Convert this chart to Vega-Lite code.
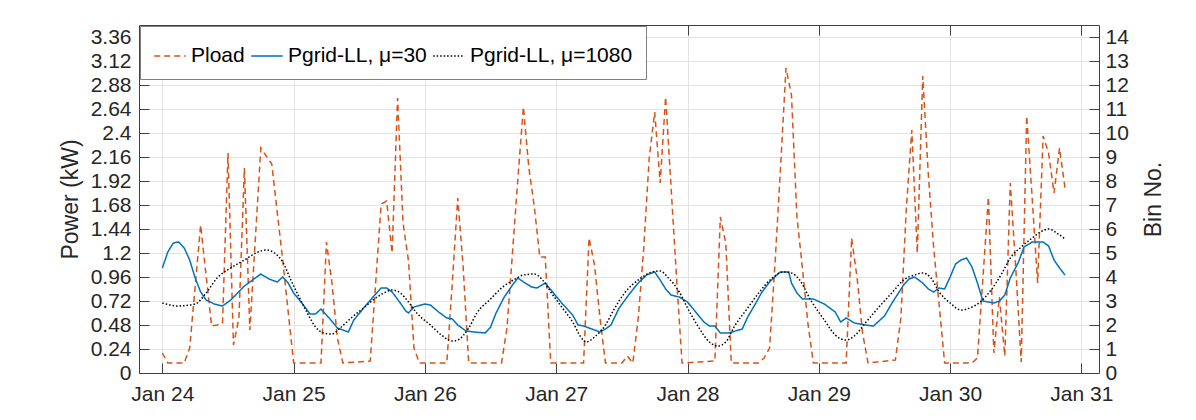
{
  "$schema": "https://vega.github.io/schema/vega-lite/v6.json",
  "width": 960,
  "height": 348,
  "autosize": {"type": "none"},
  "padding": {"left": 139, "top": 25, "right": 97, "bottom": 47},
  "config": {
    "font": "Liberation Sans",
    "view": {"stroke": null},
    "axis": {
      "domainColor": "#404040", "domainWidth": 1,
      "tickColor": "#404040", "tickSize": -10, "tickWidth": 1,
      "labelColor": "#262626", "labelFontSize": 21,
      "titleColor": "#262626", "titleFontSize": 23, "titleFontWeight": "normal",
      "gridColor": "#e3e3e3", "gridWidth": 1
    },
    "legend": {
      "orient": "top-left", "offset": 1, "direction": "horizontal",
      "fillColor": "white", "strokeColor": "#808080", "padding": 13,
      "labelFontSize": 21, "labelColor": "#000000", "labelLimit": 400,
      "symbolType": "stroke", "symbolSize": 1000, "symbolStrokeWidth": 1.5,
      "columnPadding": 3, "labelOffset": 4
    }
  },
  "data": {
    "values": [
      {"s": "load", "t": "2021-01-24T00:00", "p": 0.20},
      {"s": "load", "t": "2021-01-24T01:00", "p": 0.10},
      {"s": "load", "t": "2021-01-24T04:00", "p": 0.10},
      {"s": "load", "t": "2021-01-24T05:00", "p": 0.25},
      {"s": "load", "t": "2021-01-24T07:00", "p": 1.48},
      {"s": "load", "t": "2021-01-24T09:00", "p": 0.47},
      {"s": "load", "t": "2021-01-24T10:00", "p": 0.48},
      {"s": "load", "t": "2021-01-24T11:00", "p": 0.50},
      {"s": "load", "t": "2021-01-24T12:00", "p": 2.20},
      {"s": "load", "t": "2021-01-24T13:00", "p": 0.28},
      {"s": "load", "t": "2021-01-24T14:00", "p": 0.55},
      {"s": "load", "t": "2021-01-24T15:00", "p": 2.05},
      {"s": "load", "t": "2021-01-24T16:00", "p": 0.43},
      {"s": "load", "t": "2021-01-24T18:00", "p": 2.25},
      {"s": "load", "t": "2021-01-24T20:00", "p": 2.09},
      {"s": "load", "t": "2021-01-24T22:00", "p": 1.13},
      {"s": "load", "t": "2021-01-25T00:00", "p": 0.10},
      {"s": "load", "t": "2021-01-25T05:00", "p": 0.10},
      {"s": "load", "t": "2021-01-25T06:00", "p": 1.31},
      {"s": "load", "t": "2021-01-25T07:00", "p": 0.90},
      {"s": "load", "t": "2021-01-25T08:00", "p": 0.35},
      {"s": "load", "t": "2021-01-25T09:00", "p": 0.10},
      {"s": "load", "t": "2021-01-25T14:00", "p": 0.12},
      {"s": "load", "t": "2021-01-25T16:00", "p": 1.69},
      {"s": "load", "t": "2021-01-25T17:00", "p": 1.72},
      {"s": "load", "t": "2021-01-25T18:00", "p": 1.20},
      {"s": "load", "t": "2021-01-25T19:00", "p": 2.75},
      {"s": "load", "t": "2021-01-25T20:00", "p": 1.50},
      {"s": "load", "t": "2021-01-25T21:00", "p": 1.12},
      {"s": "load", "t": "2021-01-25T22:00", "p": 0.25},
      {"s": "load", "t": "2021-01-25T23:00", "p": 0.10},
      {"s": "load", "t": "2021-01-26T04:00", "p": 0.10},
      {"s": "load", "t": "2021-01-26T05:00", "p": 0.90},
      {"s": "load", "t": "2021-01-26T06:00", "p": 1.75},
      {"s": "load", "t": "2021-01-26T07:00", "p": 1.05},
      {"s": "load", "t": "2021-01-26T08:00", "p": 0.10},
      {"s": "load", "t": "2021-01-26T14:00", "p": 0.10},
      {"s": "load", "t": "2021-01-26T15:00", "p": 0.45},
      {"s": "load", "t": "2021-01-26T16:00", "p": 1.20},
      {"s": "load", "t": "2021-01-26T17:00", "p": 1.95},
      {"s": "load", "t": "2021-01-26T18:00", "p": 2.66},
      {"s": "load", "t": "2021-01-26T19:00", "p": 2.05},
      {"s": "load", "t": "2021-01-26T20:00", "p": 1.66},
      {"s": "load", "t": "2021-01-26T21:00", "p": 1.16},
      {"s": "load", "t": "2021-01-26T22:00", "p": 1.16},
      {"s": "load", "t": "2021-01-26T23:00", "p": 0.10},
      {"s": "load", "t": "2021-01-27T05:00", "p": 0.10},
      {"s": "load", "t": "2021-01-27T06:00", "p": 1.35},
      {"s": "load", "t": "2021-01-27T07:00", "p": 1.08},
      {"s": "load", "t": "2021-01-27T08:00", "p": 0.55},
      {"s": "load", "t": "2021-01-27T09:00", "p": 0.10},
      {"s": "load", "t": "2021-01-27T12:00", "p": 0.10},
      {"s": "load", "t": "2021-01-27T13:00", "p": 0.17},
      {"s": "load", "t": "2021-01-27T14:00", "p": 0.10},
      {"s": "load", "t": "2021-01-27T15:00", "p": 0.55},
      {"s": "load", "t": "2021-01-27T16:00", "p": 1.25},
      {"s": "load", "t": "2021-01-27T17:00", "p": 2.15},
      {"s": "load", "t": "2021-01-27T18:00", "p": 2.61},
      {"s": "load", "t": "2021-01-27T19:00", "p": 1.90},
      {"s": "load", "t": "2021-01-27T20:00", "p": 2.76},
      {"s": "load", "t": "2021-01-27T21:00", "p": 1.85},
      {"s": "load", "t": "2021-01-27T22:00", "p": 0.95},
      {"s": "load", "t": "2021-01-27T23:00", "p": 0.10},
      {"s": "load", "t": "2021-01-28T05:00", "p": 0.12},
      {"s": "load", "t": "2021-01-28T06:00", "p": 1.56},
      {"s": "load", "t": "2021-01-28T07:00", "p": 1.30},
      {"s": "load", "t": "2021-01-28T08:00", "p": 0.10},
      {"s": "load", "t": "2021-01-28T13:00", "p": 0.10},
      {"s": "load", "t": "2021-01-28T14:00", "p": 0.15},
      {"s": "load", "t": "2021-01-28T15:00", "p": 0.25},
      {"s": "load", "t": "2021-01-28T16:00", "p": 1.10},
      {"s": "load", "t": "2021-01-28T17:00", "p": 2.05},
      {"s": "load", "t": "2021-01-28T18:00", "p": 3.05},
      {"s": "load", "t": "2021-01-28T19:00", "p": 2.78},
      {"s": "load", "t": "2021-01-28T20:00", "p": 1.56},
      {"s": "load", "t": "2021-01-28T21:00", "p": 1.05},
      {"s": "load", "t": "2021-01-28T22:00", "p": 0.50},
      {"s": "load", "t": "2021-01-28T23:00", "p": 0.10},
      {"s": "load", "t": "2021-01-29T05:00", "p": 0.10},
      {"s": "load", "t": "2021-01-29T06:00", "p": 1.35},
      {"s": "load", "t": "2021-01-29T07:00", "p": 0.95},
      {"s": "load", "t": "2021-01-29T08:00", "p": 0.40},
      {"s": "load", "t": "2021-01-29T09:00", "p": 0.10},
      {"s": "load", "t": "2021-01-29T14:00", "p": 0.13},
      {"s": "load", "t": "2021-01-29T15:00", "p": 0.55},
      {"s": "load", "t": "2021-01-29T16:00", "p": 1.65},
      {"s": "load", "t": "2021-01-29T17:00", "p": 2.43},
      {"s": "load", "t": "2021-01-29T18:00", "p": 1.20},
      {"s": "load", "t": "2021-01-29T19:00", "p": 2.97},
      {"s": "load", "t": "2021-01-29T20:00", "p": 2.00},
      {"s": "load", "t": "2021-01-29T21:00", "p": 1.25},
      {"s": "load", "t": "2021-01-29T22:00", "p": 0.68},
      {"s": "load", "t": "2021-01-29T23:00", "p": 0.10},
      {"s": "load", "t": "2021-01-30T04:00", "p": 0.10},
      {"s": "load", "t": "2021-01-30T05:00", "p": 0.15},
      {"s": "load", "t": "2021-01-30T06:00", "p": 0.95},
      {"s": "load", "t": "2021-01-30T07:00", "p": 1.76},
      {"s": "load", "t": "2021-01-30T08:00", "p": 0.20},
      {"s": "load", "t": "2021-01-30T09:00", "p": 0.76},
      {"s": "load", "t": "2021-01-30T10:00", "p": 0.17},
      {"s": "load", "t": "2021-01-30T11:00", "p": 1.90},
      {"s": "load", "t": "2021-01-30T12:00", "p": 1.05},
      {"s": "load", "t": "2021-01-30T13:00", "p": 0.11},
      {"s": "load", "t": "2021-01-30T14:00", "p": 2.57},
      {"s": "load", "t": "2021-01-30T15:00", "p": 1.75},
      {"s": "load", "t": "2021-01-30T16:00", "p": 0.90},
      {"s": "load", "t": "2021-01-30T17:00", "p": 2.37},
      {"s": "load", "t": "2021-01-30T18:00", "p": 2.20},
      {"s": "load", "t": "2021-01-30T19:00", "p": 1.80},
      {"s": "load", "t": "2021-01-30T20:00", "p": 2.25},
      {"s": "load", "t": "2021-01-30T21:00", "p": 1.85},

      {"s": "mu30", "t": "2021-01-24T00:00", "p": 1.05},
      {"s": "mu30", "t": "2021-01-24T01:00", "p": 1.21},
      {"s": "mu30", "t": "2021-01-24T02:00", "p": 1.30},
      {"s": "mu30", "t": "2021-01-24T03:00", "p": 1.31},
      {"s": "mu30", "t": "2021-01-24T04:00", "p": 1.25},
      {"s": "mu30", "t": "2021-01-24T05:00", "p": 1.13},
      {"s": "mu30", "t": "2021-01-24T06:00", "p": 0.95},
      {"s": "mu30", "t": "2021-01-24T07:00", "p": 0.81},
      {"s": "mu30", "t": "2021-01-24T08:00", "p": 0.73},
      {"s": "mu30", "t": "2021-01-24T09:30", "p": 0.69},
      {"s": "mu30", "t": "2021-01-24T11:00", "p": 0.67},
      {"s": "mu30", "t": "2021-01-24T12:30", "p": 0.73},
      {"s": "mu30", "t": "2021-01-24T15:00", "p": 0.87},
      {"s": "mu30", "t": "2021-01-24T16:30", "p": 0.93},
      {"s": "mu30", "t": "2021-01-24T18:00", "p": 0.99},
      {"s": "mu30", "t": "2021-01-24T19:30", "p": 0.94},
      {"s": "mu30", "t": "2021-01-24T21:00", "p": 0.91},
      {"s": "mu30", "t": "2021-01-24T22:00", "p": 0.96},
      {"s": "mu30", "t": "2021-01-24T23:00", "p": 0.90},
      {"s": "mu30", "t": "2021-01-25T00:00", "p": 0.80},
      {"s": "mu30", "t": "2021-01-25T01:30", "p": 0.70},
      {"s": "mu30", "t": "2021-01-25T03:00", "p": 0.59},
      {"s": "mu30", "t": "2021-01-25T04:00", "p": 0.59},
      {"s": "mu30", "t": "2021-01-25T05:00", "p": 0.64},
      {"s": "mu30", "t": "2021-01-25T06:30", "p": 0.55},
      {"s": "mu30", "t": "2021-01-25T08:00", "p": 0.45},
      {"s": "mu30", "t": "2021-01-25T10:00", "p": 0.41},
      {"s": "mu30", "t": "2021-01-25T11:00", "p": 0.53},
      {"s": "mu30", "t": "2021-01-25T12:30", "p": 0.63},
      {"s": "mu30", "t": "2021-01-25T14:30", "p": 0.76},
      {"s": "mu30", "t": "2021-01-25T16:00", "p": 0.85},
      {"s": "mu30", "t": "2021-01-25T17:00", "p": 0.85},
      {"s": "mu30", "t": "2021-01-25T18:00", "p": 0.81},
      {"s": "mu30", "t": "2021-01-25T19:30", "p": 0.70},
      {"s": "mu30", "t": "2021-01-25T20:30", "p": 0.62},
      {"s": "mu30", "t": "2021-01-25T21:00", "p": 0.60},
      {"s": "mu30", "t": "2021-01-25T22:00", "p": 0.66},
      {"s": "mu30", "t": "2021-01-26T00:00", "p": 0.69},
      {"s": "mu30", "t": "2021-01-26T01:00", "p": 0.68},
      {"s": "mu30", "t": "2021-01-26T02:30", "p": 0.61},
      {"s": "mu30", "t": "2021-01-26T04:00", "p": 0.55},
      {"s": "mu30", "t": "2021-01-26T05:00", "p": 0.54},
      {"s": "mu30", "t": "2021-01-26T06:00", "p": 0.48},
      {"s": "mu30", "t": "2021-01-26T07:30", "p": 0.42},
      {"s": "mu30", "t": "2021-01-26T09:00", "p": 0.41},
      {"s": "mu30", "t": "2021-01-26T11:00", "p": 0.40},
      {"s": "mu30", "t": "2021-01-26T12:00", "p": 0.46},
      {"s": "mu30", "t": "2021-01-26T13:00", "p": 0.60},
      {"s": "mu30", "t": "2021-01-26T14:30", "p": 0.76},
      {"s": "mu30", "t": "2021-01-26T16:00", "p": 0.88},
      {"s": "mu30", "t": "2021-01-26T17:00", "p": 0.95},
      {"s": "mu30", "t": "2021-01-26T18:00", "p": 0.91},
      {"s": "mu30", "t": "2021-01-26T19:30", "p": 0.86},
      {"s": "mu30", "t": "2021-01-26T20:30", "p": 0.85},
      {"s": "mu30", "t": "2021-01-26T22:00", "p": 0.90},
      {"s": "mu30", "t": "2021-01-26T23:30", "p": 0.80},
      {"s": "mu30", "t": "2021-01-27T01:00", "p": 0.70},
      {"s": "mu30", "t": "2021-01-27T03:00", "p": 0.58},
      {"s": "mu30", "t": "2021-01-27T04:00", "p": 0.48},
      {"s": "mu30", "t": "2021-01-27T05:00", "p": 0.47},
      {"s": "mu30", "t": "2021-01-27T06:30", "p": 0.44},
      {"s": "mu30", "t": "2021-01-27T08:00", "p": 0.41},
      {"s": "mu30", "t": "2021-01-27T09:00", "p": 0.44},
      {"s": "mu30", "t": "2021-01-27T10:00", "p": 0.48},
      {"s": "mu30", "t": "2021-01-27T11:30", "p": 0.65},
      {"s": "mu30", "t": "2021-01-27T13:30", "p": 0.80},
      {"s": "mu30", "t": "2021-01-27T15:00", "p": 0.90},
      {"s": "mu30", "t": "2021-01-27T16:30", "p": 0.98},
      {"s": "mu30", "t": "2021-01-27T18:00", "p": 1.01},
      {"s": "mu30", "t": "2021-01-27T19:00", "p": 0.93},
      {"s": "mu30", "t": "2021-01-27T20:00", "p": 0.84},
      {"s": "mu30", "t": "2021-01-27T21:00", "p": 0.78},
      {"s": "mu30", "t": "2021-01-27T22:30", "p": 0.76},
      {"s": "mu30", "t": "2021-01-28T00:00", "p": 0.71},
      {"s": "mu30", "t": "2021-01-28T01:30", "p": 0.61},
      {"s": "mu30", "t": "2021-01-28T03:00", "p": 0.51},
      {"s": "mu30", "t": "2021-01-28T04:00", "p": 0.47},
      {"s": "mu30", "t": "2021-01-28T05:00", "p": 0.47},
      {"s": "mu30", "t": "2021-01-28T06:00", "p": 0.40},
      {"s": "mu30", "t": "2021-01-28T07:30", "p": 0.40},
      {"s": "mu30", "t": "2021-01-28T10:00", "p": 0.44},
      {"s": "mu30", "t": "2021-01-28T11:00", "p": 0.56},
      {"s": "mu30", "t": "2021-01-28T12:30", "p": 0.70},
      {"s": "mu30", "t": "2021-01-28T13:30", "p": 0.80},
      {"s": "mu30", "t": "2021-01-28T15:00", "p": 0.91},
      {"s": "mu30", "t": "2021-01-28T16:30", "p": 0.99},
      {"s": "mu30", "t": "2021-01-28T17:00", "p": 1.01},
      {"s": "mu30", "t": "2021-01-28T18:30", "p": 1.01},
      {"s": "mu30", "t": "2021-01-28T19:00", "p": 0.90},
      {"s": "mu30", "t": "2021-01-28T20:00", "p": 0.80},
      {"s": "mu30", "t": "2021-01-28T21:00", "p": 0.74},
      {"s": "mu30", "t": "2021-01-28T23:00", "p": 0.74},
      {"s": "mu30", "t": "2021-01-29T01:00", "p": 0.69},
      {"s": "mu30", "t": "2021-01-29T03:00", "p": 0.61},
      {"s": "mu30", "t": "2021-01-29T04:00", "p": 0.51},
      {"s": "mu30", "t": "2021-01-29T05:00", "p": 0.55},
      {"s": "mu30", "t": "2021-01-29T06:30", "p": 0.50},
      {"s": "mu30", "t": "2021-01-29T08:30", "p": 0.48},
      {"s": "mu30", "t": "2021-01-29T10:00", "p": 0.47},
      {"s": "mu30", "t": "2021-01-29T12:00", "p": 0.57},
      {"s": "mu30", "t": "2021-01-29T13:30", "p": 0.71},
      {"s": "mu30", "t": "2021-01-29T15:30", "p": 0.88},
      {"s": "mu30", "t": "2021-01-29T16:30", "p": 0.94},
      {"s": "mu30", "t": "2021-01-29T17:30", "p": 0.96},
      {"s": "mu30", "t": "2021-01-29T19:00", "p": 0.90},
      {"s": "mu30", "t": "2021-01-29T20:00", "p": 0.84},
      {"s": "mu30", "t": "2021-01-29T21:00", "p": 0.81},
      {"s": "mu30", "t": "2021-01-29T22:00", "p": 0.85},
      {"s": "mu30", "t": "2021-01-29T23:00", "p": 0.84},
      {"s": "mu30", "t": "2021-01-30T00:00", "p": 0.96},
      {"s": "mu30", "t": "2021-01-30T01:00", "p": 1.09},
      {"s": "mu30", "t": "2021-01-30T02:00", "p": 1.13},
      {"s": "mu30", "t": "2021-01-30T03:00", "p": 1.15},
      {"s": "mu30", "t": "2021-01-30T04:00", "p": 1.06},
      {"s": "mu30", "t": "2021-01-30T05:00", "p": 0.90},
      {"s": "mu30", "t": "2021-01-30T06:00", "p": 0.72},
      {"s": "mu30", "t": "2021-01-30T07:00", "p": 0.71},
      {"s": "mu30", "t": "2021-01-30T08:00", "p": 0.70},
      {"s": "mu30", "t": "2021-01-30T09:00", "p": 0.72},
      {"s": "mu30", "t": "2021-01-30T10:00", "p": 0.78},
      {"s": "mu30", "t": "2021-01-30T11:00", "p": 0.95},
      {"s": "mu30", "t": "2021-01-30T12:30", "p": 1.11},
      {"s": "mu30", "t": "2021-01-30T13:30", "p": 1.26},
      {"s": "mu30", "t": "2021-01-30T15:00", "p": 1.31},
      {"s": "mu30", "t": "2021-01-30T17:00", "p": 1.31},
      {"s": "mu30", "t": "2021-01-30T18:00", "p": 1.27},
      {"s": "mu30", "t": "2021-01-30T19:00", "p": 1.13},
      {"s": "mu30", "t": "2021-01-30T20:00", "p": 1.05},
      {"s": "mu30", "t": "2021-01-30T21:00", "p": 0.98},

      {"s": "mu1080", "t": "2021-01-24T00:00", "p": 0.70},
      {"s": "mu1080", "t": "2021-01-24T03:00", "p": 0.67},
      {"s": "mu1080", "t": "2021-01-24T06:00", "p": 0.69},
      {"s": "mu1080", "t": "2021-01-24T08:00", "p": 0.80},
      {"s": "mu1080", "t": "2021-01-24T10:00", "p": 0.95},
      {"s": "mu1080", "t": "2021-01-24T12:30", "p": 1.05},
      {"s": "mu1080", "t": "2021-01-24T15:00", "p": 1.13},
      {"s": "mu1080", "t": "2021-01-24T17:30", "p": 1.21},
      {"s": "mu1080", "t": "2021-01-24T19:00", "p": 1.23},
      {"s": "mu1080", "t": "2021-01-24T20:30", "p": 1.20},
      {"s": "mu1080", "t": "2021-01-24T22:00", "p": 1.11},
      {"s": "mu1080", "t": "2021-01-24T23:30", "p": 0.93},
      {"s": "mu1080", "t": "2021-01-25T01:00", "p": 0.76},
      {"s": "mu1080", "t": "2021-01-25T02:30", "p": 0.60},
      {"s": "mu1080", "t": "2021-01-25T04:00", "p": 0.46},
      {"s": "mu1080", "t": "2021-01-25T05:30", "p": 0.40},
      {"s": "mu1080", "t": "2021-01-25T07:00", "p": 0.39},
      {"s": "mu1080", "t": "2021-01-25T08:30", "p": 0.45},
      {"s": "mu1080", "t": "2021-01-25T10:30", "p": 0.55},
      {"s": "mu1080", "t": "2021-01-25T13:00", "p": 0.66},
      {"s": "mu1080", "t": "2021-01-25T15:00", "p": 0.75},
      {"s": "mu1080", "t": "2021-01-25T16:30", "p": 0.80},
      {"s": "mu1080", "t": "2021-01-25T18:00", "p": 0.83},
      {"s": "mu1080", "t": "2021-01-25T19:30", "p": 0.80},
      {"s": "mu1080", "t": "2021-01-25T21:00", "p": 0.71},
      {"s": "mu1080", "t": "2021-01-25T22:30", "p": 0.60},
      {"s": "mu1080", "t": "2021-01-26T01:00", "p": 0.48},
      {"s": "mu1080", "t": "2021-01-26T03:00", "p": 0.38},
      {"s": "mu1080", "t": "2021-01-26T05:00", "p": 0.32},
      {"s": "mu1080", "t": "2021-01-26T06:00", "p": 0.33},
      {"s": "mu1080", "t": "2021-01-26T08:00", "p": 0.45},
      {"s": "mu1080", "t": "2021-01-26T09:30", "p": 0.60},
      {"s": "mu1080", "t": "2021-01-26T12:00", "p": 0.74},
      {"s": "mu1080", "t": "2021-01-26T14:00", "p": 0.85},
      {"s": "mu1080", "t": "2021-01-26T16:30", "p": 0.94},
      {"s": "mu1080", "t": "2021-01-26T18:00", "p": 0.98},
      {"s": "mu1080", "t": "2021-01-26T20:00", "p": 0.99},
      {"s": "mu1080", "t": "2021-01-26T21:30", "p": 0.93},
      {"s": "mu1080", "t": "2021-01-26T23:00", "p": 0.81},
      {"s": "mu1080", "t": "2021-01-27T01:00", "p": 0.66},
      {"s": "mu1080", "t": "2021-01-27T03:00", "p": 0.51},
      {"s": "mu1080", "t": "2021-01-27T04:30", "p": 0.36},
      {"s": "mu1080", "t": "2021-01-27T05:30", "p": 0.31},
      {"s": "mu1080", "t": "2021-01-27T07:00", "p": 0.36},
      {"s": "mu1080", "t": "2021-01-27T09:00", "p": 0.48},
      {"s": "mu1080", "t": "2021-01-27T10:30", "p": 0.63},
      {"s": "mu1080", "t": "2021-01-27T12:30", "p": 0.80},
      {"s": "mu1080", "t": "2021-01-27T15:30", "p": 0.95},
      {"s": "mu1080", "t": "2021-01-27T17:30", "p": 1.01},
      {"s": "mu1080", "t": "2021-01-27T19:00", "p": 1.02},
      {"s": "mu1080", "t": "2021-01-27T20:30", "p": 0.95},
      {"s": "mu1080", "t": "2021-01-27T22:30", "p": 0.81},
      {"s": "mu1080", "t": "2021-01-28T00:00", "p": 0.65},
      {"s": "mu1080", "t": "2021-01-28T02:00", "p": 0.46},
      {"s": "mu1080", "t": "2021-01-28T04:00", "p": 0.31},
      {"s": "mu1080", "t": "2021-01-28T05:30", "p": 0.27},
      {"s": "mu1080", "t": "2021-01-28T07:00", "p": 0.31},
      {"s": "mu1080", "t": "2021-01-28T08:30", "p": 0.46},
      {"s": "mu1080", "t": "2021-01-28T11:00", "p": 0.65},
      {"s": "mu1080", "t": "2021-01-28T13:00", "p": 0.80},
      {"s": "mu1080", "t": "2021-01-28T15:30", "p": 0.95},
      {"s": "mu1080", "t": "2021-01-28T17:30", "p": 1.01},
      {"s": "mu1080", "t": "2021-01-28T19:00", "p": 1.00},
      {"s": "mu1080", "t": "2021-01-28T20:30", "p": 0.93},
      {"s": "mu1080", "t": "2021-01-28T22:30", "p": 0.73},
      {"s": "mu1080", "t": "2021-01-29T01:00", "p": 0.53},
      {"s": "mu1080", "t": "2021-01-29T03:00", "p": 0.38},
      {"s": "mu1080", "t": "2021-01-29T05:00", "p": 0.33},
      {"s": "mu1080", "t": "2021-01-29T06:30", "p": 0.37},
      {"s": "mu1080", "t": "2021-01-29T08:30", "p": 0.50},
      {"s": "mu1080", "t": "2021-01-29T11:00", "p": 0.66},
      {"s": "mu1080", "t": "2021-01-29T13:30", "p": 0.81},
      {"s": "mu1080", "t": "2021-01-29T15:30", "p": 0.93},
      {"s": "mu1080", "t": "2021-01-29T17:30", "p": 0.98},
      {"s": "mu1080", "t": "2021-01-29T19:00", "p": 1.00},
      {"s": "mu1080", "t": "2021-01-29T20:30", "p": 0.95},
      {"s": "mu1080", "t": "2021-01-29T22:00", "p": 0.81},
      {"s": "mu1080", "t": "2021-01-30T00:00", "p": 0.70},
      {"s": "mu1080", "t": "2021-01-30T02:00", "p": 0.63},
      {"s": "mu1080", "t": "2021-01-30T04:00", "p": 0.66},
      {"s": "mu1080", "t": "2021-01-30T05:30", "p": 0.71},
      {"s": "mu1080", "t": "2021-01-30T07:30", "p": 0.83},
      {"s": "mu1080", "t": "2021-01-30T09:30", "p": 1.00},
      {"s": "mu1080", "t": "2021-01-30T11:00", "p": 1.15},
      {"s": "mu1080", "t": "2021-01-30T13:00", "p": 1.26},
      {"s": "mu1080", "t": "2021-01-30T15:00", "p": 1.35},
      {"s": "mu1080", "t": "2021-01-30T16:30", "p": 1.41},
      {"s": "mu1080", "t": "2021-01-30T18:00", "p": 1.44},
      {"s": "mu1080", "t": "2021-01-30T19:30", "p": 1.40},
      {"s": "mu1080", "t": "2021-01-30T21:00", "p": 1.34}
    ]
  },
  "layer": [
    {
      "encoding": {
        "x": {
          "field": "t", "type": "temporal",
          "scale": {
            "domain": [
              {"year": 2021, "month": 1, "date": 23, "hours": 19, "minutes": 44},
              {"year": 2021, "month": 1, "date": 31, "hours": 3, "minutes": 13}
            ],
            "nice": false
          },
          "axis": {
            "orient": "bottom", "title": null, "format": "%b %d",
            "values": [
              {"year": 2021, "month": 1, "date": 24}, {"year": 2021, "month": 1, "date": 25},
              {"year": 2021, "month": 1, "date": 26}, {"year": 2021, "month": 1, "date": 27},
              {"year": 2021, "month": 1, "date": 28}, {"year": 2021, "month": 1, "date": 29},
              {"year": 2021, "month": 1, "date": 30}, {"year": 2021, "month": 1, "date": 31}
            ],
            "grid": true, "labelPadding": 20
          }
        },
        "y": {
          "field": "p", "type": "quantitative",
          "scale": {"domain": [0, 3.48], "nice": false, "zero": false},
          "axis": {
            "title": "Power (kW)", "grid": true,
            "values": [0, 0.24, 0.48, 0.72, 0.96, 1.2, 1.44, 1.68, 1.92, 2.16, 2.4, 2.64, 2.88, 3.12, 3.36],
            "labelExpr": "format(datum.value, '.3~g')",
            "labelPadding": 18, "titlePadding": 8
          }
        },
        "color": {
          "field": "s", "type": "nominal",
          "scale": {"domain": ["load", "mu30", "mu1080"], "range": ["#D95319", "#0072BD", "#000000"]},
          "legend": {
            "title": null,
            "labelExpr": "datum.label == 'load' ? 'Pload' : datum.label == 'mu30' ? 'Pgrid-LL, μ=30' : 'Pgrid-LL, μ=1080'"
          }
        },
        "strokeDash": {
          "field": "s", "type": "nominal",
          "scale": {"domain": ["load", "mu30", "mu1080"], "range": [[6, 4], [1, 0], [1.5, 2]]},
          "legend": {
            "title": null,
            "labelExpr": "datum.label == 'load' ? 'Pload' : datum.label == 'mu30' ? 'Pgrid-LL, μ=30' : 'Pgrid-LL, μ=1080'"
          }
        }
      },
      "layer": [
        {
          "transform": [{"filter": "datum.s != 'mu1080'"}],
          "mark": {"type": "line", "strokeWidth": 1.5, "clip": true}
        },
        {
          "transform": [{"filter": "datum.s == 'mu1080'"}],
          "mark": {"type": "line", "strokeWidth": 1.5, "clip": true, "interpolate": "monotone"}
        }
      ]
    },
    {
      "data": {"values": [{}]},
      "mark": {"type": "point", "opacity": 0},
      "encoding": {
        "x": {
          "datum": {"year": 2021, "month": 1, "date": 24}, "type": "temporal",
          "scale": {
            "domain": [
              {"year": 2021, "month": 1, "date": 23, "hours": 19, "minutes": 44},
              {"year": 2021, "month": 1, "date": 31, "hours": 3, "minutes": 13}
            ],
            "nice": false
          },
          "axis": {
            "orient": "top", "title": null, "labels": false, "grid": false,
            "values": [
              {"year": 2021, "month": 1, "date": 24}, {"year": 2021, "month": 1, "date": 25},
              {"year": 2021, "month": 1, "date": 26}, {"year": 2021, "month": 1, "date": 27},
              {"year": 2021, "month": 1, "date": 28}, {"year": 2021, "month": 1, "date": 29},
              {"year": 2021, "month": 1, "date": 30}, {"year": 2021, "month": 1, "date": 31}
            ]
          }
        },
        "y": {
          "datum": 0, "type": "quantitative",
          "scale": {"domain": [0, 14.5], "nice": false},
          "axis": {
            "orient": "right", "title": "Bin No.", "grid": false, "format": "d",
            "values": [0, 1, 2, 3, 4, 5, 6, 7, 8, 9, 10, 11, 12, 13, 14],
            "labelPadding": 16, "titlePadding": 37, "titleAngle": 270
          }
        }
      }
    }
  ],
  "resolve": {"scale": {"x": "independent", "y": "independent"}}
}
